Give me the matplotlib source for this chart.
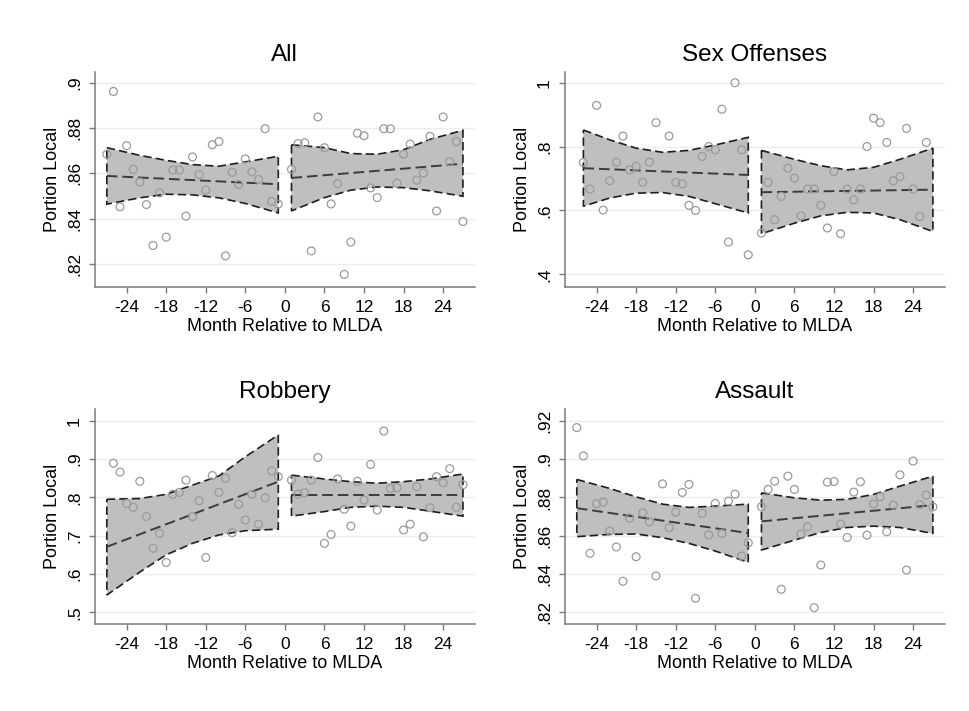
import numpy as np
import matplotlib.pyplot as plt
from matplotlib.ticker import FuncFormatter

plt.rcParams['font.family'] = ['Liberation Sans', 'DejaVu Sans']
plt.rcParams['axes.unicode_minus'] = False

# months relative to MLDA (no observation at 0)
months_pre = np.arange(-27, 0)
months_post = np.arange(1, 28)
months_pre_sex = np.array([-26, -25, -24, -23, -22, -21, -20, -19, -18, -17, -16, -15,
                           -13, -12, -11, -10, -9, -8, -7, -6, -5, -4, -3, -2, -1])
months_pre_rob = np.arange(-26, 0)
months_post_sex = np.arange(1, 27)

# portion local
all_pre = [0.8685, 0.8963, 0.8452, 0.8723, 0.8618, 0.8562, 0.8462, 0.8281, 0.8514,
           0.8318, 0.8615, 0.8615, 0.8411, 0.8673, 0.8595, 0.8526, 0.8727, 0.8741,
           0.8235, 0.8605, 0.8551, 0.8664, 0.8607, 0.8573, 0.8798, 0.8476, 0.8464]
all_post = [0.8618, 0.8732, 0.8736, 0.8257, 0.8850, 0.8714, 0.8465, 0.8555, 0.8153,
            0.8296, 0.8778, 0.8767, 0.8536, 0.8493, 0.8798, 0.8798, 0.8557, 0.8685,
            0.8730, 0.8570, 0.8602, 0.8764, 0.8434, 0.8850, 0.8652, 0.8741, 0.8387]

sex_pre = [0.750, 0.667, 0.929, 0.601, 0.693, 0.751, 0.833, 0.727, 0.738, 0.688,
           0.751, 0.875, 0.833, 0.688, 0.683, 0.616, 0.600, 0.769, 0.800, 0.790,
           0.917, 0.501, 1.000, 0.790, 0.461]
sex_post = [0.529, 0.688, 0.571, 0.644, 0.732, 0.701, 0.583, 0.667, 0.667, 0.616,
            0.545, 0.722, 0.527, 0.667, 0.633, 0.667, 0.800, 0.889, 0.875, 0.813,
            0.693, 0.706, 0.857, 0.667, 0.581, 0.813]

rob_pre = [0.889, 0.866, 0.784, 0.774, 0.842, 0.750, 0.667, 0.706, 0.630, 0.808,
           0.813, 0.845, 0.750, 0.791, 0.643, 0.857, 0.813, 0.850, 0.708, 0.782,
           0.741, 0.808, 0.730, 0.799, 0.869, 0.854]
rob_post = [0.845, 0.808, 0.812, 0.845, 0.904, 0.680, 0.703, 0.848, 0.769, 0.725,
            0.842, 0.793, 0.886, 0.767, 0.973, 0.823, 0.825, 0.715, 0.730, 0.828,
            0.697, 0.773, 0.854, 0.838, 0.875, 0.774, 0.833]

asl_pre = [0.9165, 0.9017, 0.8508, 0.8767, 0.8776, 0.8624, 0.8541, 0.8362, 0.8692,
           0.8490, 0.8720, 0.8673, 0.8390, 0.8871, 0.8642, 0.8723, 0.8826, 0.8868,
           0.8273, 0.8717, 0.8605, 0.8769, 0.8612, 0.8781, 0.8817, 0.8494, 0.8563]
asl_post = [0.8751, 0.8842, 0.8885, 0.8320, 0.8911, 0.8842, 0.8609, 0.8647, 0.8224,
            0.8447, 0.8880, 0.8883, 0.8661, 0.8591, 0.8828, 0.8882, 0.8603, 0.8765,
            0.8803, 0.8621, 0.8760, 0.8918, 0.8421, 0.8990, 0.8763, 0.8812, 0.8751]

# fitted line (end points) and 95% CI bounds
band_x_pre = [-27, -22, -18, -14, -10, -6, -1]
band_x_pre_sex = [-26, -22, -18, -14, -10, -6, -1]
band_x_post = [1, 6, 10, 14, 18, 22, 27]

all_fit_pre = [0.8589, 0.8552]
all_hi_pre = [0.8714, 0.8680, 0.8658, 0.8639, 0.8632, 0.8651, 0.8676]
all_lo_pre = [0.8464, 0.8492, 0.8508, 0.8505, 0.8492, 0.8467, 0.8425]
all_fit_post = [0.8580, 0.8643]
all_hi_post = [0.8727, 0.8714, 0.8688, 0.8685, 0.8705, 0.8751, 0.8791]
all_lo_post = [0.8434, 0.8493, 0.8526, 0.8540, 0.8537, 0.8523, 0.8499]

sex_fit_pre = [0.7323, 0.7110]
sex_hi_pre = [0.852, 0.821, 0.795, 0.782, 0.788, 0.805, 0.829]
sex_lo_pre = [0.613, 0.639, 0.654, 0.656, 0.644, 0.621, 0.592]
sex_fit_post = [0.657, 0.665]
sex_hi_post = [0.788, 0.760, 0.740, 0.727, 0.735, 0.760, 0.795]
sex_lo_post = [0.527, 0.560, 0.583, 0.594, 0.592, 0.571, 0.534]

rob_fit_pre = [0.671, 0.841]
rob_hi_pre = [0.795, 0.797, 0.808, 0.832, 0.856, 0.906, 0.963]
rob_lo_pre = [0.545, 0.605, 0.650, 0.680, 0.702, 0.713, 0.717]
rob_fit_post = [0.805, 0.805]
rob_hi_post = [0.858, 0.848, 0.841, 0.837, 0.841, 0.848, 0.861]
rob_lo_post = [0.751, 0.763, 0.774, 0.777, 0.774, 0.764, 0.751]

asl_fit_pre = [0.8744, 0.8614]
asl_hi_pre = [0.8894, 0.8847, 0.8803, 0.8765, 0.8748, 0.8755, 0.8765]
asl_lo_pre = [0.8595, 0.8607, 0.8609, 0.8590, 0.8560, 0.8520, 0.8461]
asl_fit_post = [0.8675, 0.8760]
asl_hi_post = [0.8824, 0.8798, 0.8786, 0.8790, 0.8816, 0.8859, 0.8911]
asl_lo_post = [0.8525, 0.8577, 0.8617, 0.8643, 0.8650, 0.8643, 0.8612]

titles = ["All", "Sex Offenses", "Robbery", "Assault"]
x_ticks = [-24, -18, -12, -6, 0, 6, 12, 18, 24]
y_ticks = [[0.82, 0.84, 0.86, 0.88, 0.9],
           [0.4, 0.6, 0.8, 1.0],
           [0.5, 0.6, 0.7, 0.8, 0.9, 1.0],
           [0.82, 0.84, 0.86, 0.88, 0.9, 0.92]]
y_lims = [(0.8097, 0.9049), (0.360, 1.0335), (0.4695, 1.0297), (0.8139, 0.926)]

panels = [
    [(months_pre, all_pre, band_x_pre, all_fit_pre, all_hi_pre, all_lo_pre),
     (months_post, all_post, band_x_post, all_fit_post, all_hi_post, all_lo_post)],
    [(months_pre_sex, sex_pre, band_x_pre_sex, sex_fit_pre, sex_hi_pre, sex_lo_pre),
     (months_post_sex, sex_post, band_x_post, sex_fit_post, sex_hi_post, sex_lo_post)],
    [(months_pre_rob, rob_pre, band_x_pre, rob_fit_pre, rob_hi_pre, rob_lo_pre),
     (months_post, rob_post, band_x_post, rob_fit_post, rob_hi_post, rob_lo_post)],
    [(months_pre, asl_pre, band_x_pre, asl_fit_pre, asl_hi_pre, asl_lo_pre),
     (months_post, asl_post, band_x_post, asl_fit_post, asl_hi_post, asl_lo_post)],
]

# axes boxes in figure fractions (969 x 711 px)
ax_pos = [[0.098, 0.5963, 0.392, 0.3024],
          [0.583, 0.5963, 0.392, 0.3024],
          [0.098, 0.1224, 0.392, 0.3018],
          [0.583, 0.1224, 0.392, 0.3018]]


def stata_fmt(v, pos):
    s = f"{v:g}"
    if s.startswith("0."):
        s = s[1:]
    return s


fig = plt.figure(figsize=(9.69, 7.11), dpi=100)

for i in range(4):
    ax = fig.add_axes(ax_pos[i])

    for mx, vals, bx, fit, hi, lo in panels[i]:
        poly_x = list(bx) + list(bx[::-1])
        poly_y = list(hi) + list(lo[::-1])
        ax.fill(poly_x, poly_y, facecolor="#bfbfbf", edgecolor="#1e1e1e",
                linewidth=1.2, linestyle=(0, (5, 2.5)), zorder=2)
        ax.plot([bx[0], bx[-1]], fit, color="#3c3c3c", linewidth=1.4,
                linestyle=(0, (5.5, 2.5)), zorder=3)

    for mx, vals, bx, fit, hi, lo in panels[i]:
        ax.scatter(mx, vals, s=32, facecolors="none", edgecolors="#9a9a9a",
                   linewidths=0.9, zorder=4)

    ax.set_xlim(-28.8, 28.8)
    ax.set_ylim(*y_lims[i])
    ax.set_xticks(x_ticks)
    ax.set_yticks(y_ticks[i])
    ax.yaxis.set_major_formatter(FuncFormatter(stata_fmt))
    ax.grid(axis="y", color="#e6eff0", linewidth=1.0, zorder=0)
    ax.set_axisbelow(True)

    for side in ["top", "right"]:
        ax.spines[side].set_visible(False)
    for side in ["left", "bottom"]:
        ax.spines[side].set_color("#7a7a7a")
        ax.spines[side].set_linewidth(1.1)

    ax.tick_params(axis="both", colors="#7a7a7a", length=4.3, width=1.0,
                   labelcolor="black", labelsize=12.5, pad=5)
    ax.tick_params(axis="y", labelrotation=90)
    for lab in ax.get_yticklabels():
        lab.set_verticalalignment("center")

    ax.set_title(titles[i], fontsize=17.5, pad=8)
    ax.set_xlabel("Month Relative to MLDA", fontsize=13, labelpad=2)
    ax.set_ylabel("Portion Local", fontsize=13, labelpad=4)

fig.savefig("out.png", dpi=100, facecolor="white")
